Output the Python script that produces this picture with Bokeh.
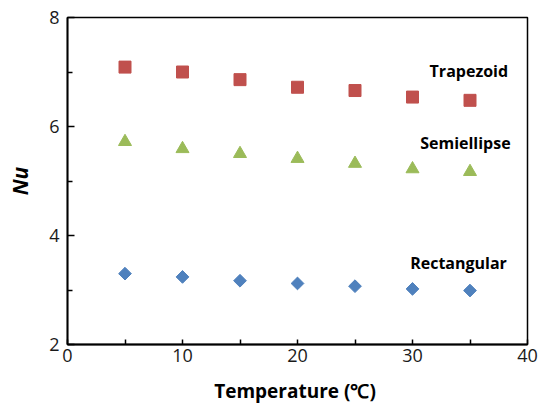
import math
from bokeh.plotting import figure
from bokeh.models import Range1d, FixedTicker, Label
from bokeh.embed import file_html
from bokeh.resources import INLINE

temperature = [5, 10, 15, 20, 25, 30, 35]
trapezoid = [7.09, 7.00, 6.86, 6.72, 6.66, 6.54, 6.48]
semiellipse = [5.72, 5.59, 5.50, 5.41, 5.32, 5.22, 5.17]
rectangular = [3.30, 3.24, 3.17, 3.12, 3.07, 3.02, 2.99]

series_labels = ["Trapezoid", "Semiellipse", "Rectangular"]
label_x = [34.9, 34.6, 34.0]
label_y = [7.01, 5.69, 3.49]

x_ticks = [0, 10, 20, 30, 40]
x_minor = [5, 15, 25, 35]
y_ticks = [2, 4, 6, 8]
y_minor = [3, 5, 7]

x_title = "Temperature  (℃)"
y_title = "Nu"

FONT = "Open Sans"

p = figure(width=539, height=407, output_backend="svg", toolbar_location=None,
           x_range=Range1d(0, 40), y_range=Range1d(2, 8))
p.min_border_left = 67
p.min_border_right = 12
p.min_border_top = 17
p.min_border_bottom = 63
p.background_fill_color = "white"
p.border_fill_color = "white"
p.grid.visible = False
p.outline_line_color = "black"
p.outline_line_width = 1.5

for ax, ticks, minor in ((p.xaxis[0], x_ticks, x_minor), (p.yaxis[0], y_ticks, y_minor)):
    ax.ticker = FixedTicker(ticks=ticks, minor_ticks=minor)
    ax.axis_line_color = "black"
    ax.axis_line_width = 1.8
    ax.major_tick_in = 7
    ax.major_tick_out = 0
    ax.minor_tick_in = 5
    ax.minor_tick_out = 0
    ax.major_tick_line_color = "black"
    ax.minor_tick_line_color = "black"
    ax.major_tick_line_width = 1.5
    ax.minor_tick_line_width = 1.5
    ax.major_label_text_font = FONT
    ax.major_label_text_font_size = "18px"
    ax.major_label_text_color = "#1a1a1a"
    ax.axis_label_text_font = FONT
    ax.axis_label_text_font_style = "bold"
    ax.axis_label_text_color = "black"

p.xaxis.major_tick_in = 5
p.xaxis.major_label_standoff = 4
p.yaxis.major_label_standoff = 8
p.xaxis.axis_label = x_title
p.xaxis.axis_label_text_font_size = "19px"
p.xaxis.axis_label_standoff = 13
p.yaxis.axis_label = y_title
p.yaxis.axis_label_text_font_size = "21px"
p.yaxis.axis_label_text_font_style = "bold italic"
p.yaxis.axis_label_standoff = 12

p.scatter(temperature, trapezoid, marker="square", size=12,
          fill_color="#C0504D", line_color="#C0504D")
p.scatter(temperature, semiellipse, marker="triangle", size=13,
          fill_color="#9BBB59", line_color="#9BBB59")
p.scatter(temperature, rectangular, marker="square", size=9, angle=math.pi / 4,
          fill_color="#4F81BD", line_color="#4F81BD")

for t, lx, ly in zip(series_labels, label_x, label_y):
    p.add_layout(Label(x=lx, y=ly, text=t, text_align="center", text_baseline="middle",
                       text_font=FONT, text_font_size="16px", text_font_style="bold",
                       text_color="black"))

open("out.html", "w").write(file_html(p, INLINE))
